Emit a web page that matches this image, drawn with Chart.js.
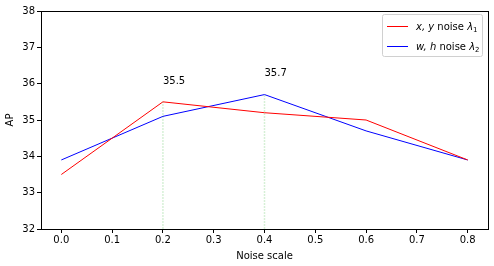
<!DOCTYPE html>
<html><head><meta charset="utf-8">
<script src="https://cdn.jsdelivr.net/npm/chart.js@4/dist/chart.umd.min.js"></script>
<style>html,body{margin:0;padding:0;background:#fff}#wrap{width:494px;height:266px}</style>
</head><body><div id="wrap"><canvas id="c" width="494" height="266"></canvas></div>
<script>
const noiseScale = [0.0, 0.2, 0.4, 0.6, 0.8];
const xyNoise = [33.5, 35.5, 35.2, 35.0, 33.9];
const whNoise = [33.9, 35.1, 35.7, 34.7, 33.9];
const xTicks = [0.0, 0.1, 0.2, 0.3, 0.4, 0.5, 0.6, 0.7, 0.8];
const yTicks = [32, 33, 34, 35, 36, 37, 38];
const markers = [{x: 0.2, y: 35.5, label: '35.5'}, {x: 0.4, y: 35.7, label: '35.7'}];

const FONT = "'DejaVu Sans', sans-serif";
const pts = (xs, ys) => xs.map((x, i) => ({x, y: ys[i]}));

const datasets = [
  {data: pts(noiseScale, xyNoise), borderColor: '#ff0000', borderWidth: 1, pointRadius: 0, tension: 0, fill: false},
  {data: pts(noiseScale, whNoise), borderColor: '#0000ff', borderWidth: 1, pointRadius: 0, tension: 0, fill: false}
];
markers.forEach(m => datasets.unshift({
  data: [{x: m.x, y: yTicks[0]}, {x: m.x, y: m.y}],
  borderColor: 'rgba(0,160,0,0.16)', borderWidth: 1.5, borderDash: [2, 1], pointRadius: 0, fill: false
}));

const frame = {
  id: 'frame',
  afterDraw(chart) {
    const {ctx, chartArea: a, scales} = chart;
    ctx.save();
    ctx.strokeStyle = '#000'; ctx.lineWidth = 1;
    ctx.strokeRect(Math.round(a.left) + 0.5, Math.round(a.top) + 0.5, Math.round(a.right - a.left), Math.round(a.bottom - a.top));
    ctx.fillStyle = '#000'; ctx.font = '10px ' + FONT; ctx.textAlign = 'left'; ctx.textBaseline = 'alphabetic';
    markers.forEach(m => {
      ctx.fillText(m.label, scales.x.getPixelForValue(m.x), scales.y.getPixelForValue(m.y + 0.5));
    });
    const lx = 382.5, ly = 14.5, lw = 100, lh = 42;
    ctx.fillStyle = 'rgba(255,255,255,0.8)';
    ctx.strokeStyle = '#d0d0d0';
    ctx.beginPath();
    const r = 2;
    ctx.moveTo(lx + r, ly); ctx.lineTo(lx + lw - r, ly); ctx.quadraticCurveTo(lx + lw, ly, lx + lw, ly + r);
    ctx.lineTo(lx + lw, ly + lh - r); ctx.quadraticCurveTo(lx + lw, ly + lh, lx + lw - r, ly + lh);
    ctx.lineTo(lx + r, ly + lh); ctx.quadraticCurveTo(lx, ly + lh, lx, ly + lh - r);
    ctx.lineTo(lx, ly + r); ctx.quadraticCurveTo(lx, ly, lx + r, ly);
    ctx.closePath(); ctx.fill(); ctx.stroke();
    const entries = [
      {color: '#ff0000', it1: 'x, y', sub: '1', y: 26},
      {color: '#0000ff', it1: 'w, h', sub: '2', y: 46}
    ];
    entries.forEach(e => {
      ctx.strokeStyle = e.color; ctx.lineWidth = 1;
      ctx.beginPath(); ctx.moveTo(387, e.y + 0.5); ctx.lineTo(408, e.y + 0.5); ctx.stroke();
      ctx.fillStyle = '#000';
      let x = 416; const by = e.y + 4;
      ctx.font = 'italic 10px ' + FONT; ctx.fillText(e.it1, x, by); x += ctx.measureText(e.it1).width;
      ctx.font = '10px ' + FONT; const t = ' noise '; ctx.fillText(t, x, by); x += ctx.measureText(t).width;
      ctx.font = 'italic 10px ' + FONT; ctx.fillText('λ', x, by); x += ctx.measureText('λ').width;
      ctx.font = '7px ' + FONT; ctx.fillText(e.sub, x, by + 2);
    });
    ctx.restore();
  }
};

new Chart(document.getElementById('c'), {
  type: 'line',
  data: {datasets},
  plugins: [frame],
  options: {
    responsive: false, animation: false, devicePixelRatio: 1,
    layout: {padding: {top: 11, right: 6, left: 0, bottom: 0}},
    plugins: {legend: {display: false}, tooltip: {enabled: false}},
    scales: {
      x: {
        type: 'linear', min: -0.04, max: 0.84,
        afterBuildTicks: s => { s.ticks = xTicks.map(v => ({value: v})); },
        afterFit: s => { s.height = 37; },
        grid: {drawOnChartArea: false, drawTicks: true, tickLength: 4, color: '#000'},
        border: {display: false},
        ticks: {color: '#000', font: {family: FONT, size: 10}, padding: 1, maxRotation: 0, callback: v => Number(v).toFixed(1)},
        title: {display: true, text: 'Noise scale', color: '#000', font: {family: FONT, size: 10}, padding: {top: 2, bottom: 4}}
      },
      y: {
        min: 32, max: 38,
        afterBuildTicks: s => { s.ticks = yTicks.map(v => ({value: v})); },
        afterFit: s => { s.width = 41; },
        grid: {drawOnChartArea: false, drawTicks: true, tickLength: 4, color: '#000'},
        border: {display: false},
        ticks: {color: '#000', font: {family: FONT, size: 10}, padding: 2},
        title: {display: true, text: 'AP', color: '#000', font: {family: FONT, size: 10}, padding: {top: 4, bottom: 0}}
      }
    }
  }
});
</script>
</body></html>
